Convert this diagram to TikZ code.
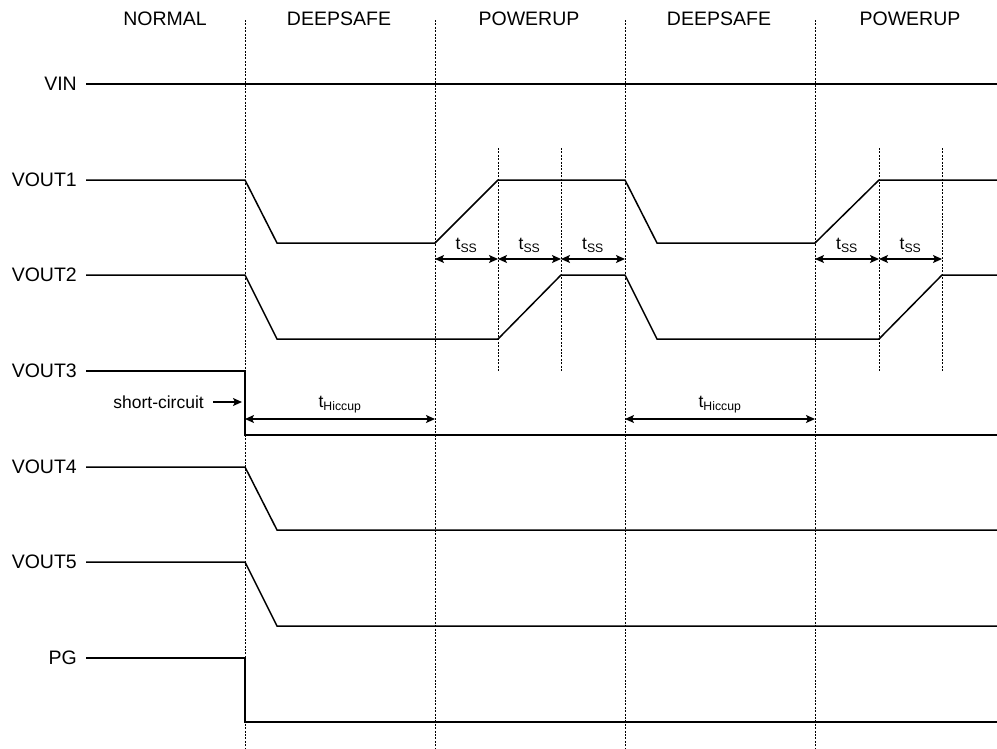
\documentclass[tikz,border=0pt]{standalone}
\usepackage{fontspec}
\setmainfont{Liberation Sans}
\usetikzlibrary{arrows.meta}
\tikzset{
  sig/.style={line width=1.5pt, line join=miter},
  divline/.style={line width=1pt, dash pattern=on 2pt off 1.4pt},
  lbl/.style={anchor=east, inner sep=0pt, font=\fontsize{19.5}{22}\selectfont},
  phase/.style={inner sep=0pt, font=\fontsize{19.5}{22}\selectfont},
  tlbl/.style={inner sep=0pt, font=\fontsize{17.5}{20}\selectfont},
  dim/.style={<->, line width=1.3pt},
}

\begin{document}
\begin{tikzpicture}[>={Stealth[length=9pt,width=8pt,inset=2pt]},x=1pt,y=-1pt]
\useasboundingbox (0,0) rectangle (997,748);
% phase borders
\foreach \x in {245,435,625,815} \draw[divline] (\x,20) -- (\x,748);
\foreach \x in {498,561,879,942} \draw[divline] (\x,148) -- (\x,371);

\node[phase] (pNormal) at (165,19) {NORMAL};
\node[phase] (pSafeA) at (339,19) {DEEPSAFE};
\node[phase] (pUpA) at (529,19) {POWERUP};
\node[phase] (pSafeB) at (719,19) {DEEPSAFE};
\node[phase] (pUpB) at (910,19) {POWERUP};

% signal names
\node[lbl] (vin) at (77,84) {VIN};
\node[lbl] (vout1) at (77,180) {VOUT1};
\node[lbl] (vout2) at (77,275) {VOUT2};
\node[lbl] (vout3) at (77,371) {VOUT3};
\node[lbl] (vout4) at (77,467) {VOUT4};
\node[lbl] (vout5) at (77,562) {VOUT5};
\node[lbl] (pg) at (77,658) {PG};

% waveforms
\draw[sig] ([xshift=9pt]vin.east) -- (997,84);
\draw[sig] ([xshift=9pt]vout1.east) -- (245,180) -- (277,243) -- (435,243)
  -- (498,180) -- (625,180) -- (657,243) -- (815,243) -- (879,180) -- (997,180);
\draw[sig] ([xshift=9pt]vout2.east) -- (245,275) -- (277,339) -- (498,339)
  -- (561,275) -- (625,275) -- (657,339) -- (879,339) -- (942,275) -- (997,275);
\draw[sig] ([xshift=9pt]vout3.east) -- (245,371) -- (245,435) -- (997,435);
\draw[sig] ([xshift=9pt]vout4.east) -- (245,467) -- (277,530) -- (997,530);
\draw[sig] ([xshift=9pt]vout5.east) -- (245,562) -- (277,626) -- (997,626);
\draw[sig] ([xshift=9pt]pg.east) -- (245,658) -- (245,722) -- (997,722);

% soft-start times
\draw[dim] (435,259) -- node[above=6pt,tlbl] {t\textsubscript{SS}} (498,259);
\draw[dim] (498,259) -- node[above=6pt,tlbl] {t\textsubscript{SS}} (561,259);
\draw[dim] (561,259) -- node[above=6pt,tlbl] {t\textsubscript{SS}} (625,259);
\draw[dim] (815,259) -- node[above=6pt,tlbl] {t\textsubscript{SS}} (879,259);
\draw[dim] (879,259) -- node[above=6pt,tlbl] {t\textsubscript{SS}} (942,259);

% hiccup times
\draw[dim] (245,419) -- node[above=5pt,tlbl] {t\textsubscript{Hiccup}} (435,419);
\draw[dim] (625,419) -- node[above=5pt,tlbl] {t\textsubscript{Hiccup}} (815,419);

\node[tlbl,anchor=east] (sc) at (204,402) {short-circuit};
\coordinate (scTip) at (242,402);
\draw[->,line width=1.3pt] ([xshift=9pt]sc.east) -- (scTip);
\end{tikzpicture}
\end{document}
